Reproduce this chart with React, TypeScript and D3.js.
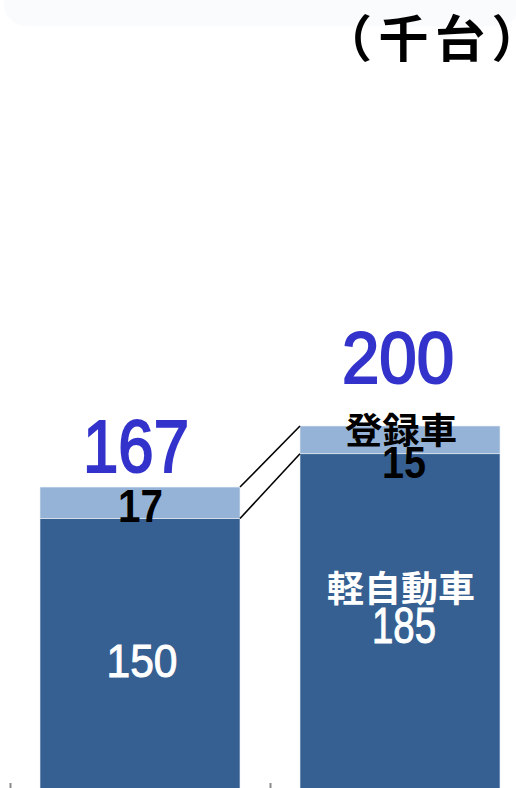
import React from "react";
import * as d3 from "d3";

const categories = ["A", "B"];
const keiValues = [150, 185];
const tourokuValues = [17, 15];
const totals = [167, 200];
const unitLabel = "（千台）";
const keiLabel = "軽自動車";
const tourokuLabel = "登録車";

const W = 516;
const H = 788;
const DARK = "#366092";
const LIGHT = "#95b3d7";
const BLUE = "#3333cc";
const NUM_FONT = "'Liberation Sans', Arial, sans-serif";
const JP_FONT = "'Noto Sans CJK JP', 'Noto Sans', sans-serif";

export default function App() {
  const x = d3
    .scaleBand<string>()
    .domain(categories)
    .range([10, 530])
    .paddingInner(0.2308)
    .paddingOuter(0.1154);
  const y = d3.scaleLinear().domain([0, 200]).range([796, 426]);
  const bw = x.bandwidth();

  const rows = categories.map((c, i) => ({
    c,
    kei: keiValues[i],
    tou: tourokuValues[i],
    total: totals[i],
  }));

  const x0 = x(categories[0])!;
  const x1 = x(categories[1])!;

  return (
    <svg
      width={W}
      height={H}
      style={{ position: "fixed", left: 0, top: 0, background: "#fff" }}
    >
      <rect x={4} y={-20} width={W} height={46} rx={22} fill="#fafbfd" />
      <text
        x={322}
        y={35}
        fontFamily={JP_FONT}
        fontWeight={700}
        fontSize={50}
        letterSpacing={6.5}
        dominantBaseline="central"
        fill="#000"
      >
        {unitLabel}
      </text>

      {rows.map((r) => {
        const bx = x(r.c)!;
        return (
          <g key={r.c}>
            <rect
              x={bx}
              y={y(r.kei)}
              width={bw}
              height={y(0) - y(r.kei)}
              fill={DARK}
              stroke="#e8eef6"
              strokeWidth={0.6}
            />
            <rect
              x={bx}
              y={y(r.total)}
              width={bw}
              height={y(r.kei) - y(r.total)}
              fill={LIGHT}
              stroke="#e8eef6"
              strokeWidth={0.6}
            />
          </g>
        );
      })}

      <line x1={x0 + bw} y1={y(totals[0])} x2={x1} y2={y(totals[1])}
        stroke="#000" strokeWidth={1.6} />
      <line x1={x0 + bw} y1={y(keiValues[0])} x2={x1} y2={y(keiValues[1])}
        stroke="#000" strokeWidth={1.6} />

      {[10.5, 270.5].map((tx) => (
        <line key={tx} x1={tx} x2={tx} y1={783} y2={796} stroke="#8a8a8a" strokeWidth={2} />
      ))}

      {/* totals */}
      <text x={x0 + bw / 2 - 4} y={472} textAnchor="middle" fontFamily={NUM_FONT}
        fontSize={75} textLength={106} lengthAdjust="spacingAndGlyphs" fill={BLUE}
        stroke={BLUE} strokeWidth={2.2}>
        {totals[0]}
      </text>
      <text x={x1 + bw / 2 - 2} y={383} textAnchor="middle" fontFamily={NUM_FONT}
        fontSize={73} textLength={112} lengthAdjust="spacingAndGlyphs" fill={BLUE}
        stroke={BLUE} strokeWidth={2.2}>
        {totals[1]}
      </text>

      {/* bar 1 labels */}
      <text x={x0 + bw / 2 + 0.5} y={522} textAnchor="middle" fontFamily={NUM_FONT}
        fontWeight={700} fontSize={46} textLength={45} lengthAdjust="spacingAndGlyphs" fill="#000">
        {tourokuValues[0]}
      </text>
      <text x={x0 + bw / 2 + 2} y={677} textAnchor="middle" fontFamily={NUM_FONT}
        fontSize={47} textLength={71} lengthAdjust="spacingAndGlyphs" fill="#fff"
        stroke="#fff" strokeWidth={1}>
        {keiValues[0]}
      </text>

      {/* bar 2 labels */}
      <text x={x1 + bw / 2 + 1} y={427.5} textAnchor="middle" fontFamily={JP_FONT}
        fontWeight={700} fontSize={36} textLength={112} lengthAdjust="spacingAndGlyphs"
        dominantBaseline="central" fill="#000">
        {tourokuLabel}
      </text>
      <text x={x1 + bw / 2 + 4} y={478} textAnchor="middle" fontFamily={NUM_FONT}
        fontWeight={700} fontSize={44} textLength={44} lengthAdjust="spacingAndGlyphs" fill="#000">
        {tourokuValues[1]}
      </text>
      <text x={x1 + bw / 2 + 1} y={586} textAnchor="middle" fontFamily={JP_FONT}
        fontWeight={700} fontSize={36} textLength={148} lengthAdjust="spacingAndGlyphs"
        dominantBaseline="central" fill="#fff">
        {keiLabel}
      </text>
      <text x={x1 + bw / 2 + 4} y={643} textAnchor="middle" fontFamily={NUM_FONT}
        fontSize={50} textLength={64} lengthAdjust="spacingAndGlyphs" fill="#fff"
        stroke="#fff" strokeWidth={1}>
        {keiValues[1]}
      </text>
    </svg>
  );
}
